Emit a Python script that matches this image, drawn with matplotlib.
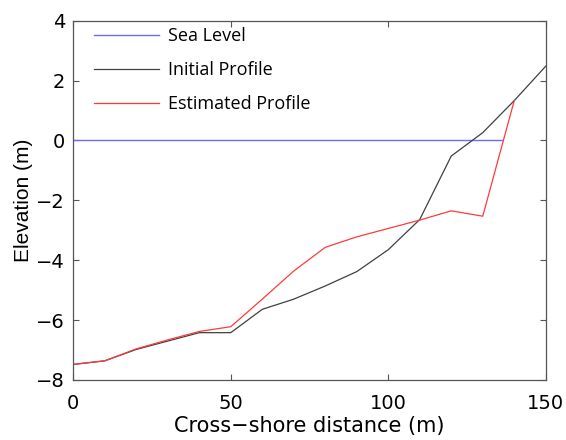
import matplotlib
matplotlib.use('Agg')
import matplotlib.pyplot as plt
import numpy as np

# cross-shore positions (m)
x = [0, 10, 20, 30, 40, 50, 60, 70, 80, 90, 100, 110, 120, 130, 140, 150]
initial = [-7.48, -7.36, -6.98, -6.70, -6.42, -6.42, -5.64, -5.30, -4.86, -4.38,
           -3.65, -2.64, -0.52, 0.26, 1.33, 2.48]

x_est = [0, 10, 20, 30, 40, 50, 60, 70, 80, 90, 100, 110, 120, 130, 140]
estimated = [-7.48, -7.36, -6.96, -6.66, -6.38, -6.22, -5.30, -4.36, -3.57, -3.22,
             -2.94, -2.66, -2.35, -2.53, 1.33]

sea_x = [0, 136]
sea_y = [0, 0]

WIDTH = 5.66
HEIGHT = 4.4
fig = plt.figure(figsize=(WIDTH, HEIGHT), dpi=100)
ax = fig.add_axes([0.1295, 0.1364, 0.8347, 0.8166])

ax.plot(sea_x, sea_y, color='#6b6bff', lw=1.0, label='Sea Level')
ax.plot(x, initial, color='#404040', lw=0.9, label='Initial Profile')
ax.plot(x_est, estimated, color='#ff3a3a', lw=0.9, label='Estimated Profile')

ax.set_xlim(0, 150)
ax.set_ylim(-8, 4)
ax.set_xticks([0, 50, 100, 150])
ax.set_yticks([-8, -6, -4, -2, 0, 2, 4])
ax.set_yticklabels(['\u22128', '\u22126', '\u22124', '\u22122', '0', '2', '4'])
ax.tick_params(direction='in', top=True, right=True, length=4, width=0.8,
               color='#555555', labelsize=14)
ax.tick_params(axis='x', pad=10)
ax.tick_params(axis='y', pad=6)
for s in ax.spines.values():
    s.set_color('#555555')
    s.set_linewidth(0.9)

ax.set_ylabel('Elevation (m)', fontsize=15, family='Liberation Sans', labelpad=2)
ax.set_xlabel('Cross\u2212shore distance (m)', fontsize=15,
              family='DejaVu Sans', labelpad=2)
for lab in ax.get_xticklabels() + ax.get_yticklabels():
    lab.set_family('DejaVu Sans')

ax.legend(loc='upper left', bbox_to_anchor=(0.017, 1.017), frameon=False,
          prop={'family': 'Open Sans', 'size': 13}, handlelength=3.6,
          handletextpad=0.5, labelspacing=0.89, borderaxespad=0.3)

fig.savefig('out.png', dpi=100)
